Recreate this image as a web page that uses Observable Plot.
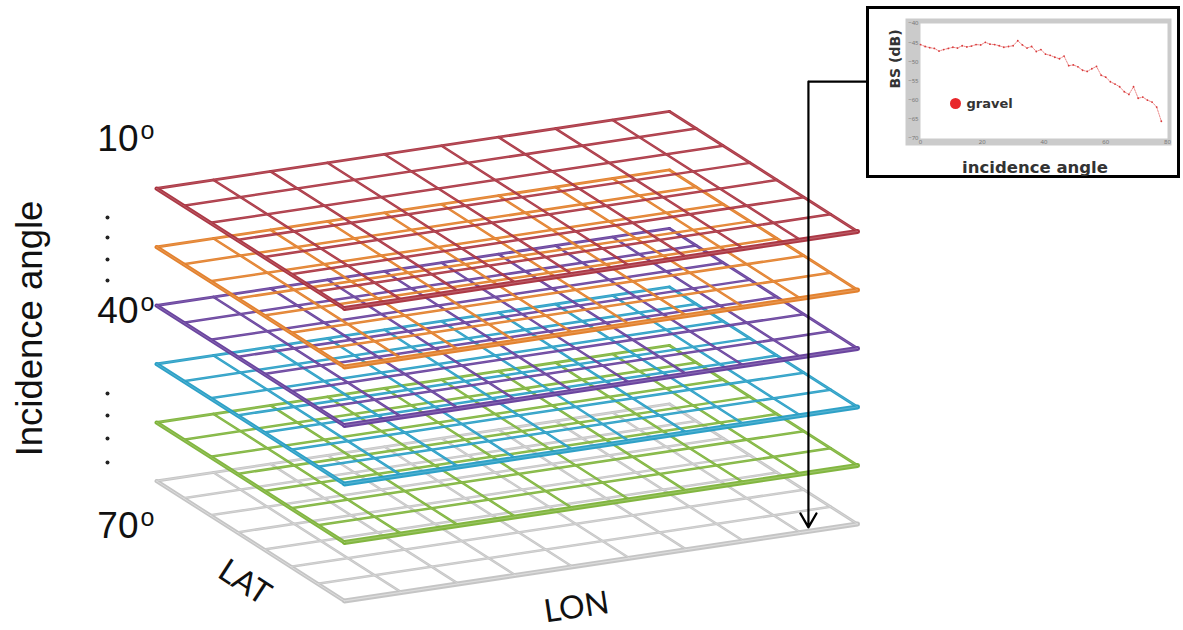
<!DOCTYPE html>
<html><head><meta charset="utf-8">
<script src="https://cdn.jsdelivr.net/npm/d3@7"></script>
<script src="https://cdn.jsdelivr.net/npm/@observablehq/plot@0.6"></script>
<style>
html,body{margin:0;padding:0;background:#fff;}
#wrap{position:relative;width:1183px;height:630px;overflow:hidden;background:#fff;}
#main{position:absolute;left:0;top:0;}
#inset{position:absolute;left:866px;top:6px;width:314px;height:172px;box-sizing:border-box;border:3px solid #000;background:#fff;}
</style></head>
<body><div id="wrap"><div id="main"></div><div id="inset"></div></div>
<script>
// ---------------- DATA ----------------
// stacked incidence-angle layers, top to bottom
const layerNames = ["layer1", "layer2", "layer3", "layer4", "layer5", "layer6"];
const layerColors = ["#a82e3c", "#e27b24", "#633b9a", "#239cc4", "#7bb236", "#c2c2c2"];
const lonCells = 9;   // grid cells along LON
const latCells = 7;   // grid cells along LAT
const angleTickLabels = ["10", "40", "70"];
const degreeMark = "o";
const axisTitle = "Incidence angle";
const latTitle = "LAT";
const lonTitle = "LON";

// inset: backscatter vs incidence angle (gravel)
const insetAngle = [0, 1.5, 3, 4.5, 6, 7.5, 9, 10.5, 12, 13.5, 15, 16.5, 18, 19.5, 21, 22.5, 24, 25.5, 27, 28.5,
  30, 31.5, 33, 34.5, 36, 37.5, 39, 40.5, 42, 43.5, 45, 46.5, 48, 49.5, 51, 52.5, 54, 55.5, 57, 58.5,
  60, 61.5, 63, 64.5, 66, 67.5, 69, 70.5, 72, 73.5, 75, 76.5, 78];
const insetBS = [-45.5, -46, -46.3, -46.5, -47.2, -46.8, -46.5, -46.2, -46.4, -45.8, -46.1, -45.9, -45.5, -45.6, -44.9, -45.4, -45.5, -45.8, -46.2, -46,
  -45.8, -44.5, -45.6, -46.4, -46, -47.3, -46.8, -48, -48.3, -48.8, -49.2, -48.5, -51, -50.8, -51.3, -52.2, -52.5, -51.8, -51.2, -53.5,
  -54, -55.2, -55.8, -56.5, -57.8, -58.5, -56.5, -59.5, -59.2, -60, -60.5, -61.8, -65.5];
const insetXTicks = [0, 20, 40, 60, 80];
const insetYTicks = [-40, -45, -50, -55, -60, -65, -70];
const insetLegend = ["gravel"];
const insetXLabel = "incidence angle";
const insetYLabel = "BS (dB)";

// ---------------- LAYOUT ----------------
const G = {ox: 156, oy: 188, lonDx: 57, lonDy: -8.56, latDx: 26.86, latDy: 17.14, levDx: 0, levDy: 58.5};
const px = (lon, lat, lev) => G.ox + lon * G.lonDx + lat * G.latDx + lev * G.levDx;
const py = (lon, lat, lev) => G.oy + lon * G.lonDy + lat * G.latDy + lev * G.levDy;
const probe = {lon: 8.2, lat: 6.87, levTop: -2.64, levBottom: 4.98};
const insetLeftEdge = 867.5;
const tickRight = 138, tickBaselines = [150, 322, 537];
const dotX = 107, dotYs = [217, 237, 259, 280, 393, 415, 438, 462];

// ---------------- BUILD ----------------
const segs = [];
layerNames.forEach((name, k) => {
  for (let i = 0; i <= lonCells; i++)
    segs.push({k, lon1: i, lat1: 0, lon2: i, lat2: latCells, w: i === 0 ? 4 : (i === lonCells ? 3 : 2.5)});
  for (let j = 0; j <= latCells; j++)
    segs.push({k, lon1: 0, lat1: j, lon2: lonCells, lat2: j, w: j === latCells ? 5 : (j === 0 ? 2.8 : 2.5)});
});

const layerMarks = [];
for (let k = layerNames.length - 1; k >= 0; k--) {
  const s = segs.filter(d => d.k === k);
  const geo = {
    x1: d => px(d.lon1, d.lat1, d.k), y1: d => py(d.lon1, d.lat1, d.k),
    x2: d => px(d.lon2, d.lat2, d.k), y2: d => py(d.lon2, d.lat2, d.k)
  };
  layerMarks.push(Plot.link(s, {...geo, stroke: layerColors[k], strokeWidth: d => d.w, strokeOpacity: 0.95, strokeLinecap: "round"}));
  layerMarks.push(Plot.link(s, {...geo, stroke: "#fff", strokeWidth: d => d.w * 0.25, strokeOpacity: k === 5 ? 0.4 : 0.18, strokeLinecap: "round"}));
}

const topPt = {x: px(probe.lon, probe.lat, probe.levTop), y: py(probe.lon, probe.lat, probe.levTop)};
const botPt = {x: px(probe.lon, probe.lat, probe.levBottom), y: py(probe.lon, probe.lat, probe.levBottom)};

const mainFont = "'Liberation Sans', Arial, sans-serif";
const labelFont = "Lato, 'Open Sans', sans-serif";
const main = Plot.plot({
  width: 1183, height: 630,
  marginTop: 0, marginRight: 0, marginBottom: 0, marginLeft: 0,
  x: {domain: [0, 1183], range: [0, 1183], axis: null},
  y: {domain: [0, 630], range: [0, 630], axis: null},
  style: {background: "transparent", overflow: "visible"},
  marks: [
    ...layerMarks,
    Plot.link([0], {x1: topPt.x, y1: topPt.y, x2: insetLeftEdge, y2: topPt.y, stroke: "#000", strokeWidth: 2.2}),
    Plot.arrow([0], {x1: topPt.x, y1: topPt.y, x2: botPt.x, y2: botPt.y, stroke: "#000", strokeWidth: 2.2, headLength: 11, headAngle: 60}),
    Plot.text([axisTitle], {x: 30, y: 328, rotate: -90, fontSize: 36.5, fontFamily: mainFont, fill: "#111", textAnchor: "middle", lineAnchor: "middle"}),
    Plot.text(angleTickLabels, {x: tickRight, y: (d, i) => tickBaselines[i], textAnchor: "end", lineAnchor: "bottom", fontSize: 37, fontFamily: mainFont, fill: "#111"}),
    Plot.text(angleTickLabels.map(() => degreeMark), {x: tickRight + 2, y: (d, i) => tickBaselines[i] - 12, textAnchor: "start", lineAnchor: "bottom", fontSize: 25, fontFamily: mainFont, fill: "#111"}),
    Plot.dot(dotYs, {x: dotX, y: d => d, r: 2, fill: "#222", stroke: null}),
    Plot.text([latTitle], {x: 244, y: 582, rotate: 33, fontSize: 32, fontFamily: labelFont, fill: "#111", textAnchor: "middle", lineAnchor: "middle"}),
    Plot.text([lonTitle], {x: 576, y: 607, rotate: -8.5, fontSize: 32, fontFamily: labelFont, fill: "#111", textAnchor: "middle", lineAnchor: "middle"})
  ]
});
document.getElementById("main").appendChild(main);

const insetData = insetAngle.map((a, i) => ({a, bs: insetBS[i]}));
const insetFont = "'DejaVu Sans', Verdana, sans-serif";
const inset = Plot.plot({
  width: 308, height: 166,
  marginLeft: 51, marginRight: 10, marginTop: 14, marginBottom: 37,
  x: {domain: [0, 80], axis: null},
  y: {domain: [-70, -40], axis: null},
  style: {background: "transparent", overflow: "visible"},
  marks: [
    Plot.frame({fill: "#cbcbcb", stroke: null, insetLeft: -15, insetTop: -5, insetRight: -4, insetBottom: -7}),
    Plot.frame({fill: "#fff", stroke: null}),
    Plot.axisY(insetYTicks, {tickSize: 0, tickPadding: 2, fontSize: 6, color: "#777", label: null}),
    Plot.axisX(insetXTicks, {tickSize: 0, tickPadding: 1, fontSize: 6, color: "#777", label: null}),
    Plot.line(insetData, {x: "a", y: "bs", stroke: "#e46a6a", strokeWidth: 0.8, strokeDasharray: "1.5,1.2"}),
    Plot.dot(insetData, {x: "a", y: "bs", r: 0.9, fill: "#d93a3a", stroke: null}),
    Plot.dot(insetLegend, {frameAnchor: "top-left", dx: 35, dy: 80, r: 5.5, fill: "#e8262a", stroke: null}),
    Plot.text(insetLegend, {frameAnchor: "top-left", dx: 46, dy: 80, textAnchor: "start", lineAnchor: "middle", fontSize: 13, fontWeight: "bold", fontFamily: insetFont, fill: "#333"}),
    Plot.text([insetYLabel], {frameAnchor: "left", rotate: -90, dx: -25, dy: -22, textAnchor: "middle", fontSize: 14, fontWeight: "bold", fontFamily: insetFont, fill: "#333", lineAnchor: "middle"}),
    Plot.text([insetXLabel], {frameAnchor: "bottom", dx: -9, dy: 29, textAnchor: "middle", fontSize: 16.5, fontWeight: "bold", fontFamily: insetFont, fill: "#333", lineAnchor: "middle"})
  ]
});
document.getElementById("inset").appendChild(inset);
</script>
</body></html>
